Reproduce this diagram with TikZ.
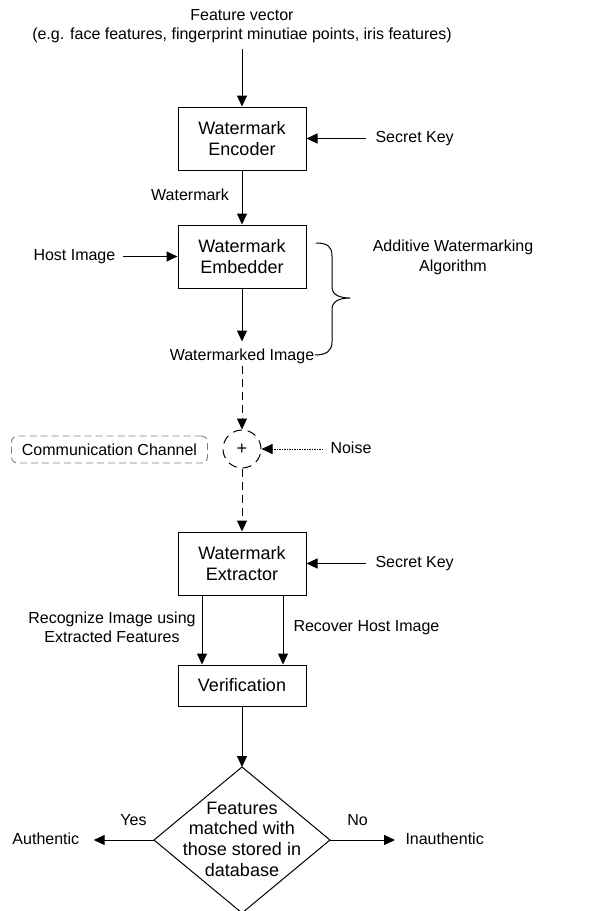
\documentclass[tikz,border=0pt]{standalone}
\usepackage{fontspec}
\setmainfont{Liberation Sans}
\usetikzlibrary{arrows.meta}
\begin{document}
\begin{tikzpicture}[x=1pt,y=-1pt, line width=1pt,
 box/.style={draw, minimum width=128pt, minimum height=63pt, inner sep=0pt, align=center, font=\fontsize{18}{21}\selectfont},
 lbl/.style={inner sep=0pt, align=center, font=\fontsize{16}{19.5}\selectfont},
 lbl1/.style={inner sep=0pt, text height=12pt, text depth=4pt, font=\fontsize{16}{19.5}\selectfont},
 arr/.style={-{Triangle[length=11pt,width=10pt]}},
 dsh/.style={dash pattern=on 8pt off 5pt},
 dott/.style={line width=0.9pt, dash pattern=on 1.2pt off 1.3pt}]
\useasboundingbox (0,0) rectangle (605,911);

\node[lbl] (fv) at (242,26) {Feature vector\\(e.g. face features, fingerprint minutiae points, iris features)};
\node[box] (enc) at (242,138.5) {Watermark\\Encoder};
\node[lbl1, anchor=west] (sk1) at (375,138.5) {Secret Key};
\node[lbl1] (wm) at (190,196) {Watermark};
\node[box] (emb) at (242,256.5) {Watermark\\Embedder};
\node[lbl1, anchor=west] (hi) at (33,256.5) {Host Image};
\node[lbl] (add) at (453,257.5) {Additive Watermarking\\Algorithm};
\node[lbl1] (wmi) at (242,356) {Watermarked Image};
\node[circle, draw, dash pattern=on 9pt off 6pt, minimum size=38pt, inner sep=0pt, font=\fontsize{18}{20}\selectfont] (plus) at (242,449) {+};
\node[lbl1, anchor=west] (noise) at (330,449) {Noise};
\node[draw=gray, line width=0.9pt, dash pattern=on 7pt off 4pt, rounded corners=6pt, minimum width=196pt, minimum height=27pt, inner sep=0pt, font=\fontsize{16}{19.5}\selectfont] (cc) at (109.5,449.5) {Communication Channel};
\node[box] (ext) at (242,563.5) {Watermark\\Extractor};
\node[lbl1, anchor=west] (sk2) at (375,563.5) {Secret Key};
\node[lbl] (rec) at (112,627.5) {Recognize Image using\\Extracted Features};
\node[lbl1, anchor=west] (rh) at (293,627) {Recover Host Image};
\node[box, minimum height=41pt] (ver) at (242,685.5) {Verification};

\coordinate (dt) at (242,767);
\coordinate (dr) at (330,840);
\coordinate (db) at (242,913);
\coordinate (dl) at (154,840);
\draw (dt) -- (dr) -- (db) -- (dl) -- cycle;
\node[inner sep=0pt, align=center, font=\fontsize{18}{20.7}\selectfont] (dq) at (242,839) {Features\\matched with\\those stored in\\database};
\node[lbl1, anchor=west] (auth) at (12,840) {Authentic};
\node[lbl1, anchor=west] (inauth) at (405,840) {Inauthentic};
\node[lbl1] (yes) at (133.5,821) {Yes};
\node[lbl1] (no) at (357.5,821) {No};

\draw[arr] ([yshift=-6pt]fv.south) -- (enc.north);
\draw[arr] ([xshift=-9pt]sk1.west) -- (enc.east);
\draw[arr] (enc.south) -- (emb.north);
\draw[arr] ([xshift=7pt]hi.east) -- (emb.west);
\draw[arr] (emb.south) -- ([yshift=6pt]wmi.north);
\draw (316,243) .. controls (328,243) and (332,247) .. (332,256) -- (332,287)
  .. controls (332,295) and (340,298) .. (350,298)
  .. controls (340,298) and (332,301) .. (332,309) -- (332,342)
  .. controls (332,351) and (326,355) .. (315,355);
\draw[arr, dsh] ([yshift=-1pt]wmi.south) -- (plus.north);
\draw[arr, dott] ([xshift=-7pt]noise.west) -- (plus.east);
\draw[arr, dsh] (plus.south) -- (ext.north);
\draw[arr] ([xshift=-9pt]sk2.west) -- (ext.east);
\draw[arr] ([xshift=-40pt]ext.south) -- ([xshift=-40pt]ver.north);
\draw[arr] ([xshift=41pt]ext.south) -- ([xshift=41pt]ver.north);
\draw[arr] (ver.south) -- (dt);
\draw[arr] (dl) -- ([xshift=14pt]auth.east);
\draw[arr] (dr) -- ([xshift=-10pt]inauth.west);
\end{tikzpicture}
\end{document}
